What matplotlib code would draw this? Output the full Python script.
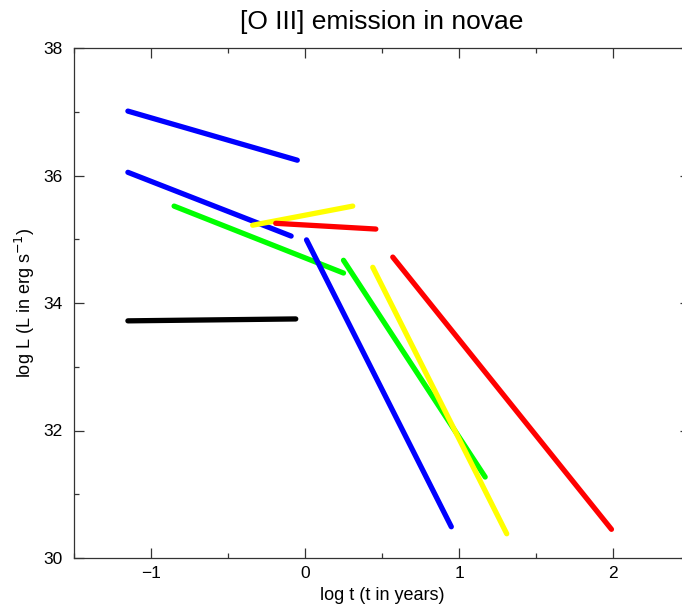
import matplotlib
matplotlib.use("Agg")
import matplotlib.pyplot as plt
from matplotlib.ticker import MultipleLocator

plt.rcParams['font.family'] = ['Liberation Sans', 'DejaVu Sans']

# segments: (x0, x1), (y0, y1), colour
seg_x = [
    (-1.15, -0.05),   # blue top
    (-1.15, -0.09),   # blue middle
    (-0.85, 0.25),    # green upper
    (-0.34, 0.31),    # yellow short
    (-0.19, 0.46),    # red short
    (-1.15, -0.06),   # black
    (0.01, 0.95),     # blue steep
    (0.25, 1.17),     # green steep
    (0.44, 1.31),     # yellow steep
    (0.57, 1.99),     # red steep
]
seg_y = [
    (37.01, 36.24),
    (36.05, 35.05),
    (35.52, 34.47),
    (35.22, 35.52),
    (35.25, 35.16),
    (33.72, 33.75),
    (34.99, 30.49),
    (34.67, 31.27),
    (34.56, 30.38),
    (34.72, 30.45),
]
seg_colors = ['#0000ff', '#0000ff', '#00ff00', '#ffff00', '#ff0000',
              '#000000', '#0000ff', '#00ff00', '#ffff00', '#ff0000']

title = "[O III] emission in novae"
xlabel = "log t (t in years)"
ylabel = r"log L (L in erg s$^{-1}$)"

fig = plt.figure(figsize=(6.82, 6.08), dpi=100)
ax = fig.add_axes([74/682, 50/608, 616/682, 510/608])

for xs, ys, c in zip(seg_x, seg_y, seg_colors):
    ax.plot(xs, ys, color=c, lw=3.8, solid_capstyle='round')

ax.set_xlim(-1.5, 2.5)
ax.set_ylim(30, 38)
ax.xaxis.set_major_locator(MultipleLocator(1))
ax.xaxis.set_minor_locator(MultipleLocator(0.5))
ax.yaxis.set_major_locator(MultipleLocator(2))
ax.yaxis.set_minor_locator(MultipleLocator(1))
ax.tick_params(which='both', direction='in', top=True, right=True,
               labelsize=12.5, width=0.9, color='#333333')
ax.tick_params(axis='x', which='both', pad=6)
ax.tick_params(axis='y', which='both', pad=8)
ax.tick_params(which='major', length=7)
ax.tick_params(which='minor', length=3.5)
for s in ax.spines.values():
    s.set_linewidth(0.9)
    s.set_color('#333333')

ax.set_title(title, fontsize=19, pad=14)
ax.set_xlabel(xlabel, fontsize=13, labelpad=4)
ax.set_ylabel(ylabel, fontsize=13, labelpad=5)

fig.savefig("out.png", dpi=100)
